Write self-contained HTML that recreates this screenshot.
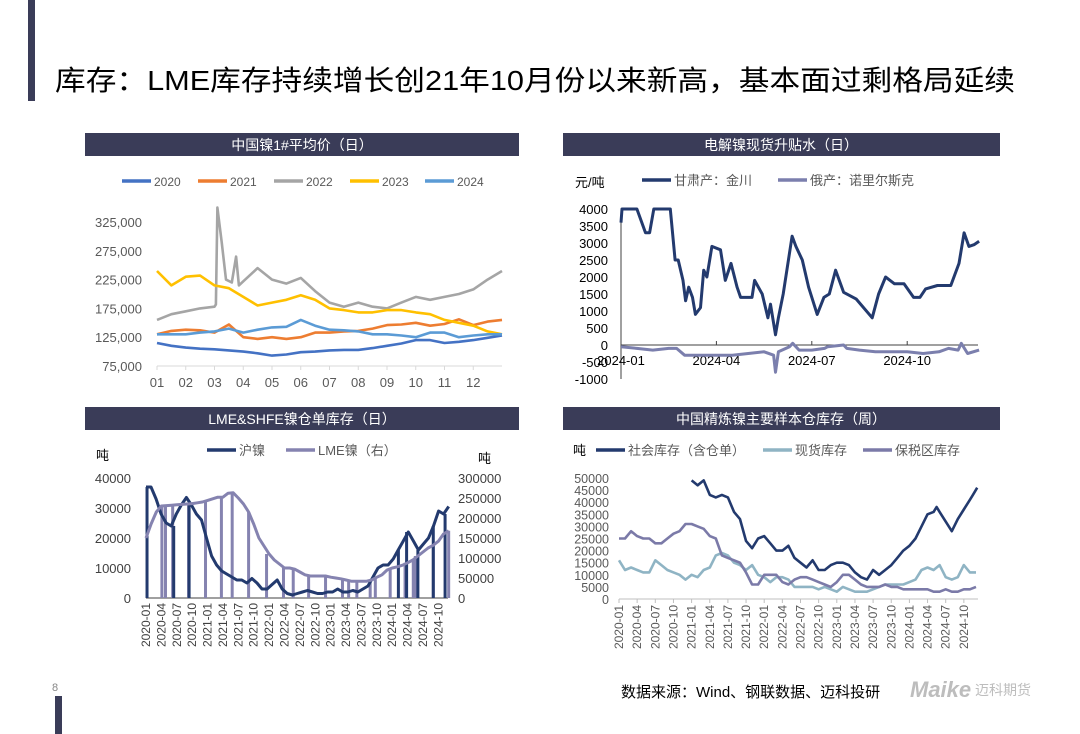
<!DOCTYPE html>
<html><head><meta charset="utf-8">
<style>
html,body{margin:0;padding:0;background:#fff;}
svg{display:block;font-family:"Liberation Sans","Noto Sans CJK SC",sans-serif;}
</style></head>
<body>
<svg id="s" width="1080" height="734" viewBox="0 0 1080 734" xmlns="http://www.w3.org/2000/svg">
<rect x="28" y="0" width="7" height="101" fill="#3a3c58"/>
<rect x="55" y="696" width="7" height="38" fill="#3a3c58"/>
<text x="55" y="90" font-size="28" fill="#000" textLength="960" lengthAdjust="spacingAndGlyphs">库存：LME库存持续增长创21年10月份以来新高，基本面过剩格局延续</text>
<text x="52" y="691" font-size="11" fill="#888">8</text>
<text x="621" y="697" font-size="15" fill="#000">数据来源：Wind、钢联数据、迈科投研</text>
<text x="910" y="697" font-size="22" font-weight="bold" font-style="italic" fill="#bdbdbd">Maike</text>
<text x="975" y="695" font-size="14" fill="#bdbdbd">迈科期货</text>

<!-- panel headers -->
<rect x="85" y="133" width="434" height="23" fill="#3a3c58"/>
<text x="302" y="150" font-size="14" fill="#fff" text-anchor="middle">中国镍1#平均价（日）</text>
<rect x="563" y="133" width="437" height="23" fill="#3a3c58"/>
<text x="781" y="150" font-size="14" fill="#fff" text-anchor="middle">电解镍现货升贴水（日）</text>
<rect x="85" y="407" width="434" height="23" fill="#3a3c58"/>
<text x="302" y="424" font-size="14" fill="#fff" text-anchor="middle">LME&amp;SHFE镍仓单库存（日）</text>
<rect x="563" y="407" width="437" height="23" fill="#3a3c58"/>
<text x="781" y="424" font-size="14" fill="#fff" text-anchor="middle">中国精炼镍主要样本仓库存（周）</text>

<g id="c1"></g><g id="c2"></g><g id="c3"></g><g id="c4"></g>
</svg>
<script>
// ===== Chart 1 data (thousand yuan/t, half-month steps) =====
const c1Months = ["01","02","03","04","05","06","07","08","09","10","11","12"];
const c1YTicks = [75,125,175,225,275,325];
const c1T = [0,0.5,1,1.5,2,2.5,3,3.5,4,4.5,5,5.5,6,6.5,7,7.5,8,8.5,9,9.5,10,10.5,11,11.5,12];
const s2020 = [115,110,107,105,104,102,100,97,93,95,99,100,102,103,103,106,110,114,120,120,115,117,120,124,128];
const s2021 = [130,136,138,137,133,147,125,122,125,122,125,133,133,135,136,140,146,147,150,145,148,156,146,152,155];
const s2023 = [240,215,230,232,215,210,195,180,185,190,198,190,175,172,168,168,172,172,168,165,155,150,145,135,130];
const s2024 = [130,130,130,133,135,140,133,138,142,143,155,145,138,137,135,130,130,128,125,133,133,125,128,130,130];
const t2022 = [0,0.5,1,1.5,2,2.05,2.1,2.25,2.4,2.6,2.75,2.85,3,3.5,4,4.5,5,5.5,6,6.5,7,7.5,8,8.5,9,9.5,10,10.5,11,11.5,12];
const s2022 = [155,165,170,175,178,182,350,290,225,220,265,215,222,245,225,218,228,205,185,178,185,178,175,185,195,190,195,200,208,225,240];

// ===== Chart 2 data (yuan/t, month offset from 2024-01) =====
const c2XLabels = ["2024-01","2024-04","2024-07","2024-10"];
const c2XPos = [0,3,6,9];
const c2YTicks = [-1000,-500,0,500,1000,1500,2000,2500,3000,3500,4000];
const jcT = [0,0.03,0.5,0.77,0.9,1.03,1.55,1.7,1.8,1.95,2.03,2.13,2.25,2.34,2.5,2.6,2.7,2.86,3.13,3.28,3.46,3.65,3.76,4.12,4.2,4.44,4.62,4.7,4.86,4.95,5.1,5.38,5.5,5.7,5.9,6.17,6.38,6.55,6.75,7.0,7.4,7.9,8.1,8.32,8.6,8.9,9.2,9.4,9.58,9.95,10.37,10.63,10.79,10.94,11.1,11.26];
const jcV = [3600,4000,4000,3300,3300,4000,4000,2500,2500,1900,1300,1700,1400,900,1100,2200,2000,2900,2800,1900,2400,1700,1400,1400,1900,1500,800,1200,300,800,1500,3200,2900,2500,1700,900,1400,1500,2200,1550,1350,800,1500,2000,1800,1800,1400,1400,1650,1750,1750,2400,3300,2900,2950,3050];
const nrT = [0,0.5,1,1.5,1.75,2.0,2.5,3,3.5,4.0,4.5,4.8,4.86,4.95,5.3,5.4,5.6,6.0,6.4,6.5,7.0,7.1,7.5,8.0,8.5,9.0,9.5,10,10.3,10.6,10.7,10.9,11.26];
const nrV = [-50,-100,-150,-100,-100,-300,-300,-300,-300,-250,-200,-300,-800,-200,-50,50,-150,-150,-100,-50,0,-100,-150,-200,-200,-200,-250,-200,-100,-150,50,-250,-150];

// ===== Chart 3 data (months from 2020-01) =====
const qLabels = ["2020-01","2020-04","2020-07","2020-10","2021-01","2021-04","2021-07","2021-10","2022-01","2022-04","2022-07","2022-10","2023-01","2023-04","2023-07","2023-10","2024-01","2024-04","2024-07","2024-10"];
const c3YLeft = [0,10000,20000,30000,40000];
const c3YRight = [0,50000,100000,150000,200000,250000,300000];
const shfe = [37000,37000,33000,28000,25000,24000,28000,31000,33500,31000,28000,26000,20000,14000,11000,9000,8000,7000,6000,6000,5000,6500,5000,3000,3000,4500,6000,3000,1500,1000,1500,2000,2500,2000,1500,1500,2000,2000,3000,2000,2000,2500,2000,3000,4000,7000,10000,11000,11000,13000,16000,19000,22000,19000,16000,18000,20000,24000,29000,28000,30500];
const lme = [150000,185000,215000,230000,231000,232000,233000,234000,235000,236000,238000,240000,244000,248000,252000,252000,262000,263000,250000,235000,215000,185000,150000,130000,110000,95000,85000,75000,75000,72000,65000,58000,55000,55000,55000,55000,52000,50000,48000,45000,42000,42000,42000,42000,45000,52000,58000,70000,75000,78000,82000,88000,95000,105000,115000,125000,132000,142000,160000,168000];
const lmeGapT = [3.1,3.8,5.2,8.3,11.6,14.7,16.8,20,23.5,26.8,28.7,31.7,35,38.3,39.5,41.1,43.7,44.7,47.6,50.5,52.1,52.5,56,59];
const shfeGapT = [0.2,5.4,8.4,49.2,50.8,53,56,58.3];

// ===== Chart 4 data (thousand t, months from 2020-01) =====
const c4YTicks = [0,5000,10000,15000,20000,25000,30000,35000,40000,45000,50000];
const socT = [12,13,14,15,16,17,18,19,20,21,22,23,24,25,26,27,28,29,30,31,32,33,34,35,36,37,38,39,40,41,42,43,44,45,46,47,48,49,50,51,52,52.5,53,54,55,56,57,58,58.5,59.2];
const socV = [49,47,49,43,42,43,42,36,33,24,21,25,26,23,20,20,22,17,15,13,16,12,12,14,15,15,14,11,9,8,12,10,12,14,17,20,22,25,30,35,36,38,36,32,28,33,37,41,43,46];
const spotV = [16,12,13,12,11,11,16,14,12,11,10,8,10,9,12,13,18,19,18,15,14,12,14,10,9,7,9,9,8,5,5,5,5,4,5,4,3,5,4,3,3,3,4,5,6,6,6,6,7,8,12,13,12,14,9,8,9,14,11,11];
const bondV = [25,25,28,26,25,25,23,23,25,27,28,31,31,30,29,26,25,18,17,16,15,11,6,6,10,10,10,7,6,8,9,9,8,7,6,5,7,10,10,8,6,5,5,5,6,5,5,4,4,4,4,4,3,3,4,3,3,4,4,5];

const NS = "http://www.w3.org/2000/svg";
function el(parent, tag, attrs, text) {
  const e = document.createElementNS(NS, tag);
  for (const k in attrs) e.setAttribute(k, attrs[k]);
  if (text !== undefined) e.textContent = text;
  parent.appendChild(e);
  return e;
}
function line(parent, ts, vs, xf, yf, color, w, name) {
  const pts = ts.map((t, i) => xf(t).toFixed(1) + "," + yf(vs[i]).toFixed(1)).join(" ");
  const p = el(parent, "polyline", {points: pts, fill: "none", stroke: color, "stroke-width": w, "stroke-linejoin": "round"});
  
  
  return p;
}
function legendItem(parent, x, y, color, label, name, fs) {
  const g = el(parent, "g", {});
  
  
  el(g, "line", {x1: x, y1: y, x2: x + 29, y2: y, stroke: color, "stroke-width": 3.5});
  el(g, "text", {x: x + 32, y: y + 5, "font-size": fs, fill: "#595959"}, label);
}

// ===== Chart 1 =====
(function(){
  const g = document.getElementById("c1");
  const x = t => 157 + t * 28.75;
  const y = v => 366 - (v - 75) * 144 / 250;
  const cols = ["#4472c4","#ed7d31","#a5a5a5","#ffc000","#5b9bd5"];
  const labs = ["2020","2021","2022","2023","2024"];
  const lx = [122,198,274,350,425];
  labs.forEach((l,i)=>{ legendItem(g, lx[i], 181, cols[i], l, "legend-entry-"+l, 12); });
  c1YTicks.forEach(v=>{
    const t = el(g,"text",{x:142,y:y(v)+5,"font-size":13,fill:"#595959","text-anchor":"end"}, v.toLocaleString("en-US")+",000".slice(0,0) + (v? "":"" ));
    t.textContent = (v*1000).toLocaleString("en-US");
    
    
  });
  const ax = el(g,"line",{x1:157,y1:366,x2:502,y2:366,stroke:"#d9d9d9","stroke-width":1});
  
  
  c1Months.forEach((m,i)=>{
    el(g,"line",{x1:x(i),y1:366,x2:x(i),y2:370,stroke:"#d9d9d9"});
    const t = el(g,"text",{x:x(i),y:387,"font-size":13,fill:"#595959","text-anchor":"middle"}, m);
    
    
  });
  line(g, c1T, s2020, x, y, cols[0], 2.6, "series-2020");
  line(g, c1T, s2021, x, y, cols[1], 2.6, "series-2021");
  line(g, t2022, s2022, x, y, cols[2], 2.6, "series-2022");
  line(g, c1T, s2023, x, y, cols[3], 2.6, "series-2023");
  line(g, c1T, s2024, x, y, cols[4], 2.6, "series-2024");
})();

// ===== Chart 2 =====
(function(){
  const g = document.getElementById("c2");
  const x = t => 621 + t * 31.8;
  const y = v => 345 - v * 0.034;
  const u = el(g,"text",{x:575,y:187,"font-size":13,fill:"#000"},"元/吨");
  
  
  legendItem(g, 642, 180, "#233a6e", "甘肃产：金川", "legend-entry-jinchuan", 13);
  legendItem(g, 778, 180, "#7b7fad", "俄产：诺里尔斯克", "legend-entry-norilsk", 13);
  c2YTicks.forEach(v=>{
    const t = el(g,"text",{x:608,y:y(v)+5,"font-size":13,fill:"#000","text-anchor":"end"}, String(v));
    
    
  });
  el(g,"line",{x1:621,y1:y(4000),x2:621,y2:y(-1000),stroke:"#404040"});
  el(g,"line",{x1:621,y1:345,x2:978,y2:345,stroke:"#404040"});
  c2XLabels.forEach((l,i)=>{
    el(g,"line",{x1:x(c2XPos[i]),y1:345,x2:x(c2XPos[i]),y2:341,stroke:"#404040"});
    const t = el(g,"text",{x:x(c2XPos[i]),y:365,"font-size":13,fill:"#000","text-anchor":"middle"}, l);
    
    
  });
  const cp = el(g,"clipPath",{id:"cp2"});
  el(cp,"rect",{x:615,y:y(4000)-1.5,width:370,height:180});
  const gl = el(g,"g",{"clip-path":"url(#cp2)"});
  line(gl, nrT, nrV, x, y, "#7b7fad", 3, "series-norilsk");
  line(gl, jcT, jcV, x, y, "#233a6e", 3, "series-jinchuan");
})();

// ===== Chart 3 =====
(function(){
  const g = document.getElementById("c3");
  const x = t => 146 + t * 5.13;
  const yl = v => 598 - v * 120 / 40000;
  const yr = v => 598 - v * 120 / 300000;
  const u1 = el(g,"text",{x:96,y:460,"font-size":13,fill:"#000"},"吨");
  
  
  const u2 = el(g,"text",{x:478,y:463,"font-size":13,fill:"#000"},"吨");
  
  
  legendItem(g, 207, 450, "#233a6e", "沪镍", "legend-entry-shfe", 13);
  legendItem(g, 286, 450, "#8583b0", "LME镍（右）", "legend-entry-lme", 13);
  c3YLeft.forEach(v=>{
    const t = el(g,"text",{x:131,y:yl(v)+5,"font-size":13,fill:"#404040","text-anchor":"end"}, String(v));
    
    
  });
  c3YRight.forEach(v=>{
    const t = el(g,"text",{x:458,y:yr(v)+5,"font-size":13,fill:"#404040"}, String(v));
    
    
  });
  el(g,"line",{x1:146,y1:598,x2:448,y2:598,stroke:"#404040"});
  qLabels.forEach((l,i)=>{
    const xx = x(i*3);
    const t = el(g,"text",{x:0,y:0,"font-size":12,fill:"#404040","text-anchor":"end",transform:`translate(${xx+4},603) rotate(-90)`}, l);
    
    
  });
  const shT = shfe.map((_,i)=>i*59/ (shfe.length-1));
  const lmT = lme.map((_,i)=>i);
  lmeGapT.forEach(t=>{
    const i = Math.min(lme.length-1, Math.round(t));
    const b = el(g,"line",{x1:x(t),y1:yr(lme[i]),x2:x(t),y2:598,stroke:"#8583b0","stroke-width":3});
    
    
  });
  shfeGapT.forEach(t=>{
    const i = Math.min(shfe.length-1, Math.round(t*(shfe.length-1)/59));
    const b = el(g,"line",{x1:x(t),y1:yl(shfe[i]),x2:x(t),y2:598,stroke:"#233a6e","stroke-width":3});
    
    
  });
  line(g, shT, shfe, x, yl, "#233a6e", 3, "series-shfe");
  line(g, lmT, lme, x, yr, "#8583b0", 3, "series-lme");
})();

// ===== Chart 4 =====
(function(){
  const g = document.getElementById("c4");
  const x = t => 619 + t * 6.05;
  const y = v => 599 - v * 121 / 50;
  const u = el(g,"text",{x:573,y:455,"font-size":13,fill:"#000"},"吨");
  
  
  legendItem(g, 596, 450, "#233a6e", "社会库存（含仓单）", "legend-entry-social", 13);
  legendItem(g, 763, 450, "#8fb4c4", "现货库存", "legend-entry-spot", 13);
  legendItem(g, 863, 450, "#7b7aa8", "保税区库存", "legend-entry-bonded", 13);
  c4YTicks.forEach(v=>{
    const t = el(g,"text",{x:609,y:y(v/1000)+5,"font-size":12.5,fill:"#595959","text-anchor":"end"}, String(v));
    
    
  });
  el(g,"line",{x1:619,y1:599,x2:978,y2:599,stroke:"#bfbfbf"});
  qLabels.forEach((l,i)=>{
    const xx = x(i*3);
    el(g,"line",{x1:xx,y1:599,x2:xx,y2:603,stroke:"#bfbfbf"});
    const t = el(g,"text",{x:0,y:0,"font-size":12,fill:"#595959","text-anchor":"end",transform:`translate(${xx+4},605) rotate(-90)`}, l);
    
    
  });
  const mT = spotV.map((_,i)=>i);
  line(g, mT, spotV, x, y, "#8fb4c4", 2.6, "series-spot");
  line(g, mT, bondV, x, y, "#7b7aa8", 2.6, "series-bonded");
  line(g, socT, socV, x, y, "#233a6e", 2.6, "series-social");
})();
</script>
</body></html>
